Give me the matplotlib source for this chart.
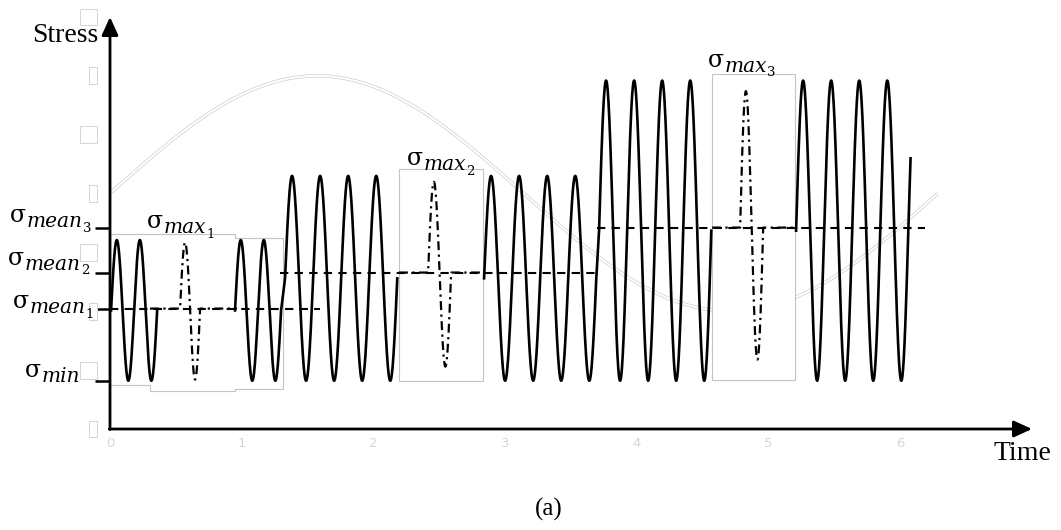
import numpy as np
import matplotlib
matplotlib.use("Agg")
import matplotlib.pyplot as plt
from matplotlib.patches import Rectangle, Polygon
import matplotlib.patheffects as pe

# ---- stress levels (axis units) ----
sigma_min = -1.59
block_max = [-0.395, 0.15, 0.96]          # peak stress of each loading block
mean_levels = [-0.977, -0.671, -0.289]    # dashed mean-stress lines
block_index = ["1", "2", "3"]

# single highlighted cycle inside each block
spike_max = [-0.415, 0.10, 0.87]
spike_min = [-1.58, -1.47, -1.41]

# ---- timing of the carrier waves ----
cycle_period = [0.175, 0.213, 0.213]
start_a = [0.008, 1.329, 3.713]
cycles_a = [2, 4, 4]
start_b = [0.949, 2.840, 5.209]
cycles_b = [2, 4, 4.08]
spike_start = [0.532, 2.415, 4.784]
spike_period = [0.152, 0.175, 0.175]

# extent of each dashed mean line
mean_from = [0.0, 1.291, 3.698]
mean_to = [1.595, 3.705, 6.188]

# time axis ticks
x_ticks = [0, 1, 2, 3, 4, 5, 6]
y_slots = [-2.0, -1.5, -1.0, -0.5, 0.0, 0.5, 1.0, 1.5]

fig = plt.figure(figsize=(10.61, 5.30), dpi=100)
ax = fig.add_axes([110 / 1061, 101 / 530, 922 / 1061, 412 / 530])
ax.set_xlim(0, 7)
ax.set_ylim(-2.0, 1.5)
for s in ax.spines.values():
    s.set_visible(False)

# faint background sine
t = np.linspace(0, 2 * np.pi, 500)
ax.plot(t, np.sin(t), color="white", lw=1.4, zorder=1, solid_capstyle="butt",
        path_effects=[pe.Stroke(linewidth=2.5, foreground="#d2d2d2"), pe.Normal()])

# grey frames around the highlighted cycles
frame_kw = dict(facecolor="white", edgecolor="#c4c4c4", lw=0.8, zorder=2)
ax.add_patch(Polygon([(0, -0.340), (0.949, -0.340), (0.949, -0.374), (1.314, -0.374),
                      (1.314, -1.657), (0.949, -1.657), (0.949, -1.674), (0.304, -1.674),
                      (0.304, -1.623), (0, -1.623)], closed=True, **frame_kw))
frame_x = [(0.304, 0.964), (2.194, 2.832), (4.571, 5.201)]
ax.add_patch(Rectangle((2.194, -1.589), 2.832 - 2.194, 0.212 + 1.589, **frame_kw))
ax.add_patch(Rectangle((4.571, -1.580), 5.201 - 4.571, 1.020 + 1.580, **frame_kw))


def carrier(i, x0, n):
    centre = (block_max[i] + sigma_min) / 2
    amp = (block_max[i] - sigma_min) / 2
    x = np.linspace(x0, x0 + n * cycle_period[i], int(200 * n))
    return x, centre + amp * np.sin(2 * np.pi * (x - x0) / cycle_period[i])


wave_kw = dict(color="black", lw=1.9, zorder=3, solid_joinstyle="round")
xa0, ya0 = carrier(0, start_a[0], cycles_a[0])
ax.plot(xa0, ya0, **wave_kw)
for i in range(3):
    xb, yb = carrier(i, start_b[i], cycles_b[i])
    if i < 2:
        xn, yn = carrier(i + 1, start_a[i + 1], cycles_a[i + 1])
        xb = np.concatenate([xb, xn])
        yb = np.concatenate([yb, yn])
    ax.plot(xb, yb, **wave_kw)

# dashed mean-stress lines
for i in range(3):
    ax.plot([mean_from[i], mean_to[i]], [mean_levels[i]] * 2, color="black", lw=1.5,
            linestyle=(0, (4, 3)), zorder=4)

# highlighted single cycles (dash-dot)
for i in range(3):
    m = mean_levels[i]
    p = spike_period[i]
    xs = np.linspace(spike_start[i], spike_start[i] + p, 200)
    ph = 2 * np.pi * (xs - spike_start[i]) / p
    sn = np.sin(ph)
    ys = np.where(sn >= 0, m + (spike_max[i] - m) * sn, m + (m - spike_min[i]) * sn)
    x = np.concatenate([[frame_x[i][0]], xs, [frame_x[i][1]]])
    y = np.concatenate([[m], ys, [m]])
    ax.plot(x, y, color="black", lw=1.6, linestyle=(0, (4, 2, 1, 2)), zorder=4)

# axes with arrow heads
arrow = dict(arrowstyle="-|>,head_length=0.55,head_width=0.25", lw=2.0, color="black",
             mutation_scale=20, shrinkA=0, shrinkB=0)
ax.annotate("", xy=(7.0, -2.0), xytext=(-0.005, -2.0), arrowprops=arrow,
            annotation_clip=False, zorder=5)
ax.annotate("", xy=(0, 1.5), xytext=(0, -2.005), arrowprops=arrow,
            annotation_clip=False, zorder=5)

# ticks
ax.set_yticks(mean_levels + [sigma_min])
ax.set_yticklabels([])
ax.tick_params(axis="y", length=10.5, width=1.8, direction="out", color="black")
ax.set_xticks(x_ticks)
ax.set_xticklabels([str(v) for v in x_ticks], color="#d6d6d6", fontsize=9.5,
                   family="DejaVu Sans")
ax.tick_params(axis="x", length=0, pad=6)

# empty label placeholders on the stress axis
for yv in y_slots:
    wide = abs(yv * 2) % 2 == 1
    x0 = -0.2278 if wide else -0.1595
    ax.add_patch(Rectangle((x0, yv - 0.072), -0.0987 - x0, 0.144, facecolor="white",
                           edgecolor="#d4d4d4", lw=0.7, clip_on=False, zorder=2))


def sigma_label(x, y, sub, idx):
    s = ax.text(x, y, "σ", fontsize=17, family="DejaVu Serif", ha="left",
                va="baseline", zorder=6)
    m = ax.annotate(sub, xy=(1, 0), xycoords=s, xytext=(0.2, -3.2),
                    textcoords="offset points", fontsize=14.5, family="DejaVu Serif",
                    style="italic", ha="left", va="bottom", zorder=6)
    if idx:
        ax.annotate(idx, xy=(1, 0), xycoords=m, xytext=(0.3, -2.5),
                    textcoords="offset points", fontsize=9.5, family="DejaVu Serif",
                    ha="left", va="bottom", zorder=6)


sigma_label(-0.759, -0.238, "mean", block_index[2])
sigma_label(-0.774, -0.603, "mean", block_index[1])
sigma_label(-0.737, -0.969, "mean", block_index[0])
sigma_label(-0.645, -1.555, "min", "")
sigma_label(0.281, -0.289, "max", block_index[0])
sigma_label(2.255, 0.246, "max", block_index[1])
sigma_label(4.541, 1.079, "max", block_index[2])

ax.text(-0.091, 1.342, "Stress", fontsize=20, family="Liberation Serif",
        ha="right", va="center")
ax.text(6.705, -2.209, "Time", fontsize=20, family="Liberation Serif",
        ha="left", va="center")
ax.text(3.333, -2.685, "(a)", fontsize=18, family="Liberation Serif",
        ha="center", va="center")

fig.savefig("out.png", dpi=100)
